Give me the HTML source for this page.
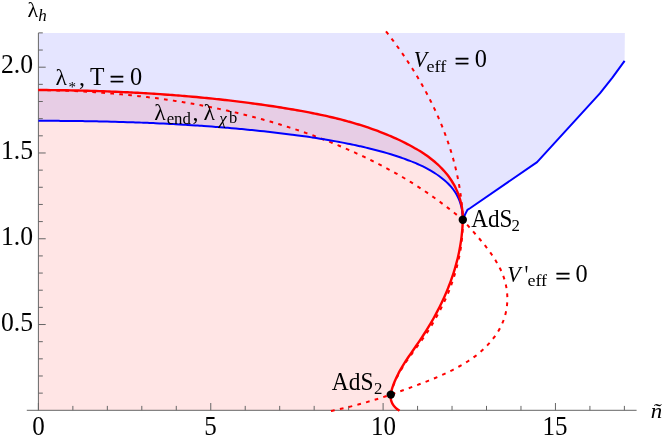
<!DOCTYPE html>
<html>
<head>
<meta charset="utf-8">
<title>Phase diagram</title>
<style>
html, body { margin: 0; padding: 0; background: #ffffff; }
body { width: 664px; height: 443px; overflow: hidden; }
svg { display: block; will-change: transform; }
text { font-family: "Liberation Serif", serif; fill: #000; }
.it { font-style: italic; }
</style>
</head>
<body>
<svg width="664" height="443" viewBox="0 0 664 443">
<rect x="0" y="0" width="664" height="443" fill="#ffffff"/>
<!-- filled regions -->
<path d="M38.40,120.80C39.07,120.80 41.09,120.80 42.44,120.80C43.79,120.81 45.13,120.81 46.48,120.81C47.83,120.82 49.17,120.82 50.52,120.82C51.87,120.83 53.21,120.84 54.56,120.84C55.91,120.85 57.25,120.86 58.60,120.87C59.95,120.87 61.29,120.88 62.64,120.89C63.98,120.90 65.33,120.91 66.68,120.93C68.02,120.94 69.37,120.95 70.71,120.97C72.06,120.98 73.41,120.99 74.75,121.01C76.10,121.02 77.44,121.04 78.79,121.06C80.13,121.08 81.48,121.09 82.83,121.11C84.17,121.13 85.52,121.15 86.86,121.18C88.21,121.20 89.55,121.22 90.90,121.24C92.24,121.27 93.59,121.29 94.93,121.32C96.28,121.34 97.62,121.37 98.97,121.39C100.31,121.42 101.66,121.45 103.00,121.48C104.35,121.51 105.69,121.54 107.04,121.57C108.38,121.60 109.72,121.64 111.07,121.67C112.41,121.70 113.76,121.74 115.10,121.78C116.45,121.81 117.79,121.85 119.13,121.89C120.48,121.93 121.82,121.96 123.17,122.01C124.51,122.05 125.85,122.09 127.20,122.13C128.54,122.17 129.89,122.22 131.23,122.26C132.57,122.31 133.92,122.36 135.26,122.40C136.60,122.45 137.95,122.50 139.29,122.55C140.63,122.60 141.98,122.65 143.32,122.70C144.66,122.76 146.01,122.81 147.35,122.87C148.69,122.92 150.04,122.98 151.38,123.04C152.72,123.09 154.07,123.15 155.41,123.21C156.75,123.27 158.09,123.34 159.44,123.40C160.78,123.46 162.12,123.53 163.46,123.59C164.81,123.66 166.15,123.72 167.49,123.79C168.83,123.86 170.18,123.93 171.52,124.00C172.86,124.07 174.20,124.15 175.54,124.22C176.89,124.29 178.23,124.37 179.57,124.45C180.91,124.52 182.25,124.60 183.60,124.68C184.94,124.76 186.28,124.84 187.62,124.92C188.96,125.01 190.30,125.09 191.65,125.18C192.99,125.26 194.33,125.35 195.67,125.44C197.01,125.53 198.35,125.62 199.69,125.71C201.03,125.80 202.38,125.89 203.72,125.99C205.06,126.08 206.40,126.18 207.74,126.28C209.08,126.37 210.42,126.47 211.76,126.57C213.10,126.67 214.44,126.78 215.78,126.88C217.12,126.98 218.47,127.09 219.81,127.20C221.15,127.30 222.49,127.41 223.83,127.52C225.17,127.63 226.51,127.75 227.85,127.86C229.19,127.97 230.53,128.09 231.87,128.21C233.21,128.32 234.55,128.44 235.89,128.56C237.23,128.68 238.57,128.81 239.91,128.93C241.25,129.05 242.58,129.18 243.92,129.31C245.26,129.43 246.60,129.56 247.94,129.69C249.28,129.82 250.62,129.96 251.96,130.09C253.30,130.23 254.64,130.36 255.98,130.50C257.32,130.64 258.66,130.78 259.99,130.92C261.33,131.06 262.67,131.20 264.01,131.35C265.35,131.49 266.69,131.64 268.03,131.79C269.36,131.94 270.70,132.09 272.04,132.24C273.38,132.39 274.72,132.55 276.06,132.70C277.39,132.86 278.73,133.02 280.07,133.18C281.41,133.34 282.75,133.50 284.09,133.66C285.42,133.83 286.76,133.99 288.10,134.16C289.44,134.33 290.77,134.50 292.11,134.67C293.45,134.84 294.79,135.02 296.12,135.20C297.46,135.37 298.79,135.55 300.13,135.73C301.47,135.92 302.80,136.10 304.14,136.29C305.47,136.47 306.81,136.66 308.14,136.86C309.48,137.05 310.81,137.24 312.14,137.44C313.47,137.64 314.81,137.84 316.14,138.05C317.47,138.25 318.80,138.46 320.13,138.67C321.46,138.88 322.79,139.10 324.12,139.32C325.45,139.53 326.78,139.76 328.10,139.98C329.43,140.21 330.76,140.44 332.08,140.67C333.41,140.90 334.73,141.14 336.05,141.38C337.38,141.62 338.70,141.86 340.02,142.11C341.34,142.36 342.66,142.61 343.98,142.87C345.29,143.13 346.61,143.39 347.93,143.65C349.24,143.92 350.56,144.19 351.87,144.46C353.18,144.74 354.50,145.02 355.81,145.30C357.12,145.58 358.43,145.87 359.73,146.17C361.04,146.46 362.35,146.76 363.65,147.06C364.95,147.37 366.26,147.67 367.56,147.99C368.86,148.30 370.16,148.62 371.46,148.94C372.75,149.27 374.05,149.60 375.35,149.94C376.64,150.27 377.93,150.62 379.23,150.97C380.52,151.32 381.81,151.67 383.10,152.03C384.39,152.40 385.68,152.77 386.97,153.15C388.25,153.52 389.54,153.91 390.83,154.30C392.11,154.70 393.39,155.10 394.68,155.51C395.96,155.92 397.24,156.33 398.53,156.76C399.81,157.19 401.09,157.62 402.37,158.07C403.65,158.51 404.92,158.97 406.20,159.44C407.47,159.90 408.74,160.38 410.01,160.87C411.27,161.36 412.53,161.87 413.79,162.38C415.04,162.90 416.29,163.43 417.53,163.98C418.77,164.53 420.00,165.09 421.22,165.67C422.45,166.25 423.66,166.85 424.86,167.46C426.07,168.08 427.26,168.71 428.44,169.36C429.62,170.02 430.79,170.69 431.94,171.38C433.10,172.07 434.24,172.79 435.36,173.52C436.49,174.26 437.60,175.02 438.69,175.80C439.79,176.58 440.87,177.39 441.92,178.22C442.98,179.05 444.02,179.91 445.03,180.79C446.04,181.67 447.03,182.58 447.99,183.52C448.94,184.46 449.86,185.42 450.74,186.42C451.63,187.41 452.47,188.44 453.27,189.49C454.07,190.55 454.83,191.63 455.53,192.75C456.23,193.87 456.89,195.02 457.49,196.20C458.09,197.38 458.65,198.59 459.15,199.82C459.65,201.05 460.09,202.31 460.49,203.59C460.88,204.87 461.23,206.17 461.52,207.49C461.81,208.81 462.05,210.15 462.24,211.49C462.43,212.84 462.57,214.21 462.66,215.57C462.76,216.94 462.78,219.01 462.80,219.70L465.40,213.90L467.40,209.90L470.40,208.00L537.10,162.10L599.90,93.40L612.40,77.60L624.60,60.90L624.9,33.0L38.4,33.0Z" fill="#0000ff" fill-opacity="0.1"/>
<path d="M38.40,90.00C39.08,90.00 41.10,90.02 42.45,90.03C43.81,90.03 45.16,90.05 46.51,90.06C47.86,90.07 49.21,90.08 50.56,90.10C51.92,90.11 53.27,90.13 54.62,90.14C55.97,90.16 57.32,90.18 58.68,90.19C60.03,90.21 61.38,90.23 62.73,90.25C64.08,90.28 65.44,90.30 66.79,90.32C68.14,90.35 69.49,90.37 70.85,90.40C72.20,90.42 73.55,90.45 74.90,90.48C76.26,90.51 77.61,90.54 78.96,90.57C80.31,90.60 81.67,90.63 83.02,90.67C84.37,90.70 85.72,90.74 87.07,90.77C88.43,90.81 89.78,90.85 91.13,90.89C92.48,90.93 93.84,90.97 95.19,91.01C96.54,91.05 97.89,91.09 99.25,91.14C100.60,91.18 101.95,91.23 103.30,91.28C104.66,91.33 106.01,91.37 107.36,91.42C108.71,91.48 110.07,91.53 111.42,91.58C112.77,91.63 114.12,91.69 115.47,91.75C116.83,91.80 118.18,91.86 119.53,91.92C120.88,91.98 122.23,92.04 123.59,92.10C124.94,92.16 126.29,92.23 127.64,92.29C128.99,92.36 130.35,92.43 131.70,92.49C133.05,92.56 134.40,92.63 135.75,92.70C137.10,92.78 138.46,92.85 139.81,92.92C141.16,93.00 142.51,93.08 143.86,93.15C145.21,93.23 146.56,93.31 147.91,93.39C149.26,93.47 150.61,93.56 151.97,93.64C153.32,93.73 154.67,93.81 156.02,93.90C157.37,93.99 158.72,94.08 160.07,94.17C161.42,94.26 162.77,94.35 164.12,94.45C165.47,94.54 166.82,94.64 168.17,94.74C169.52,94.84 170.87,94.94 172.22,95.04C173.56,95.14 174.91,95.25 176.26,95.35C177.61,95.46 178.96,95.56 180.31,95.67C181.66,95.78 183.01,95.89 184.36,96.00C185.70,96.12 187.05,96.23 188.40,96.35C189.75,96.46 191.10,96.58 192.44,96.70C193.79,96.82 195.14,96.94 196.49,97.07C197.83,97.19 199.18,97.32 200.53,97.45C201.87,97.57 203.22,97.70 204.57,97.83C205.91,97.97 207.26,98.10 208.60,98.23C209.95,98.37 211.30,98.51 212.64,98.65C213.99,98.79 215.33,98.93 216.68,99.07C218.02,99.21 219.37,99.36 220.71,99.51C222.06,99.65 223.40,99.80 224.75,99.95C226.09,100.11 227.43,100.26 228.78,100.41C230.12,100.57 231.46,100.73 232.81,100.89C234.15,101.05 235.49,101.21 236.84,101.37C238.18,101.53 239.52,101.70 240.86,101.87C242.20,102.04 243.55,102.21 244.89,102.38C246.23,102.55 247.57,102.72 248.91,102.90C250.25,103.08 251.59,103.26 252.93,103.44C254.27,103.62 255.61,103.80 256.95,103.99C258.29,104.17 259.63,104.36 260.97,104.55C262.31,104.74 263.65,104.93 264.99,105.12C266.32,105.32 267.66,105.51 269.00,105.71C270.34,105.91 271.67,106.11 273.01,106.31C274.35,106.52 275.69,106.72 277.02,106.93C278.36,107.14 279.69,107.35 281.03,107.56C282.37,107.77 283.70,107.99 285.04,108.20C286.37,108.42 287.70,108.64 289.04,108.86C290.37,109.08 291.71,109.31 293.04,109.53C294.37,109.76 295.71,109.99 297.04,110.23C298.37,110.46 299.70,110.70 301.03,110.94C302.36,111.18 303.69,111.42 305.02,111.67C306.35,111.92 307.68,112.17 309.00,112.42C310.33,112.68 311.66,112.94 312.98,113.20C314.31,113.47 315.63,113.73 316.96,114.01C318.28,114.28 319.60,114.56 320.92,114.84C322.24,115.12 323.56,115.41 324.88,115.70C326.20,115.99 327.52,116.28 328.83,116.59C330.15,116.89 331.46,117.19 332.78,117.51C334.09,117.82 335.40,118.14 336.71,118.46C338.02,118.79 339.33,119.12 340.64,119.45C341.95,119.79 343.25,120.13 344.56,120.48C345.86,120.82 347.17,121.18 348.47,121.54C349.77,121.90 351.07,122.27 352.36,122.64C353.66,123.02 354.96,123.40 356.25,123.79C357.54,124.17 358.84,124.57 360.13,124.97C361.41,125.38 362.70,125.79 363.99,126.20C365.27,126.62 366.56,127.05 367.84,127.48C369.12,127.91 370.40,128.35 371.68,128.80C372.95,129.25 374.23,129.71 375.50,130.17C376.77,130.64 378.04,131.11 379.31,131.60C380.58,132.08 381.84,132.57 383.11,133.07C384.37,133.57 385.63,134.08 386.89,134.60C388.15,135.12 389.40,135.64 390.65,136.18C391.91,136.72 393.16,137.26 394.40,137.82C395.65,138.38 396.89,138.94 398.14,139.52C399.38,140.09 400.62,140.68 401.85,141.27C403.09,141.87 404.32,142.48 405.54,143.09C406.77,143.71 407.99,144.34 409.20,144.98C410.42,145.62 411.62,146.27 412.82,146.94C414.02,147.61 415.21,148.28 416.39,148.98C417.56,149.67 418.73,150.37 419.89,151.09C421.05,151.81 422.19,152.55 423.33,153.30C424.46,154.05 425.58,154.81 426.68,155.59C427.79,156.37 428.88,157.16 429.95,157.98C431.02,158.79 432.08,159.62 433.12,160.46C434.16,161.31 435.18,162.17 436.18,163.05C437.18,163.93 438.16,164.83 439.12,165.75C440.08,166.67 441.02,167.60 441.94,168.56C442.86,169.52 443.75,170.49 444.62,171.49C445.49,172.48 446.34,173.50 447.16,174.53C447.98,175.57 448.77,176.63 449.54,177.71C450.30,178.79 451.05,179.89 451.76,181.01C452.47,182.13 453.15,183.28 453.80,184.44C454.45,185.60 455.07,186.78 455.66,187.98C456.25,189.18 456.81,190.40 457.33,191.64C457.85,192.87 458.34,194.13 458.80,195.39C459.25,196.66 459.67,197.95 460.05,199.25C460.43,200.55 460.78,201.86 461.08,203.19C461.39,204.52 461.66,205.86 461.88,207.21C462.11,208.56 462.30,209.93 462.44,211.31C462.59,212.69 462.69,214.08 462.75,215.47C462.81,216.87 462.79,219.00 462.80,219.70C462.78,220.40 462.72,222.49 462.65,223.88C462.58,225.27 462.50,226.65 462.40,228.04C462.30,229.42 462.19,230.80 462.06,232.18C461.92,233.56 461.78,234.93 461.61,236.31C461.45,237.68 461.27,239.05 461.08,240.41C460.89,241.78 460.68,243.14 460.45,244.50C460.23,245.86 459.99,247.22 459.74,248.57C459.49,249.92 459.22,251.27 458.94,252.62C458.66,253.96 458.36,255.31 458.05,256.65C457.74,257.99 457.41,259.32 457.08,260.65C456.74,261.99 456.39,263.32 456.02,264.64C455.66,265.97 455.28,267.29 454.89,268.61C454.50,269.92 454.10,271.24 453.68,272.55C453.26,273.86 452.83,275.17 452.39,276.47C451.95,277.77 451.50,279.07 451.03,280.37C450.56,281.66 450.09,282.95 449.60,284.24C449.11,285.53 448.60,286.81 448.09,288.09C447.58,289.37 447.05,290.64 446.52,291.91C445.98,293.18 445.44,294.45 444.88,295.71C444.32,296.98 443.75,298.23 443.17,299.49C442.60,300.74 442.01,301.99 441.41,303.24C440.81,304.48 440.20,305.72 439.58,306.96C438.96,308.20 438.33,309.43 437.69,310.65C437.05,311.88 436.41,313.11 435.75,314.32C435.09,315.54 434.42,316.76 433.75,317.96C433.07,319.17 432.39,320.38 431.70,321.58C431.00,322.78 430.30,323.97 429.59,325.16C428.88,326.35 428.17,327.54 427.44,328.72C426.71,329.90 425.98,331.07 425.24,332.24C424.50,333.41 423.75,334.58 422.99,335.74C422.24,336.90 421.47,338.05 420.70,339.20C419.93,340.35 419.15,341.50 418.37,342.64C417.59,343.78 416.80,344.91 416.01,346.05C415.23,347.19 414.43,348.32 413.65,349.45C412.86,350.58 412.07,351.72 411.29,352.85C410.50,353.99 409.72,355.12 408.95,356.26C408.18,357.40 407.41,358.54 406.66,359.69C405.90,360.84 405.16,361.99 404.42,363.15C403.69,364.32 402.97,365.48 402.27,366.66C401.57,367.83 400.88,369.02 400.21,370.21C399.54,371.41 398.89,372.62 398.26,373.83C397.63,375.05 397.02,376.28 396.44,377.53C395.86,378.77 395.30,380.03 394.77,381.31C394.24,382.58 393.73,383.87 393.26,385.18C392.79,386.49 392.32,387.82 391.94,389.16C391.56,390.49 391.20,391.85 390.99,393.20C390.78,394.54 390.64,395.89 390.69,397.22C390.75,398.54 390.93,399.87 391.34,401.15C391.75,402.42 392.37,403.71 393.14,404.88C393.91,406.05 394.90,407.20 395.96,408.19C397.02,409.17 398.91,410.36 399.50,410.80L38.4,410.3L38.4,90.0Z" fill="#ff0000" fill-opacity="0.1"/>
<!-- axes -->
<g stroke="#666666" stroke-width="1" fill="none" shape-rendering="auto">
<line x1="26.8" y1="410.3" x2="636.6" y2="410.3"/>
<line x1="38.4" y1="410.3" x2="38.4" y2="33.0"/>
<line x1="38.40" y1="410.3" x2="38.40" y2="403.00"/>
<line x1="72.87" y1="410.3" x2="72.87" y2="405.90"/>
<line x1="107.34" y1="410.3" x2="107.34" y2="405.90"/>
<line x1="141.81" y1="410.3" x2="141.81" y2="405.90"/>
<line x1="176.28" y1="410.3" x2="176.28" y2="405.90"/>
<line x1="210.75" y1="410.3" x2="210.75" y2="403.00"/>
<line x1="245.22" y1="410.3" x2="245.22" y2="405.90"/>
<line x1="279.69" y1="410.3" x2="279.69" y2="405.90"/>
<line x1="314.16" y1="410.3" x2="314.16" y2="405.90"/>
<line x1="348.63" y1="410.3" x2="348.63" y2="405.90"/>
<line x1="383.10" y1="410.3" x2="383.10" y2="403.00"/>
<line x1="417.57" y1="410.3" x2="417.57" y2="405.90"/>
<line x1="452.04" y1="410.3" x2="452.04" y2="405.90"/>
<line x1="486.51" y1="410.3" x2="486.51" y2="405.90"/>
<line x1="520.98" y1="410.3" x2="520.98" y2="405.90"/>
<line x1="555.45" y1="410.3" x2="555.45" y2="403.00"/>
<line x1="589.92" y1="410.3" x2="589.92" y2="405.90"/>
<line x1="624.39" y1="410.3" x2="624.39" y2="405.90"/>
<line x1="38.4" y1="393.14" x2="42.80" y2="393.14"/>
<line x1="38.4" y1="375.99" x2="42.80" y2="375.99"/>
<line x1="38.4" y1="358.83" x2="42.80" y2="358.83"/>
<line x1="38.4" y1="341.68" x2="42.80" y2="341.68"/>
<line x1="38.4" y1="324.52" x2="45.70" y2="324.52"/>
<line x1="38.4" y1="307.37" x2="42.80" y2="307.37"/>
<line x1="38.4" y1="290.21" x2="42.80" y2="290.21"/>
<line x1="38.4" y1="273.06" x2="42.80" y2="273.06"/>
<line x1="38.4" y1="255.91" x2="42.80" y2="255.91"/>
<line x1="38.4" y1="238.75" x2="45.70" y2="238.75"/>
<line x1="38.4" y1="221.59" x2="42.80" y2="221.59"/>
<line x1="38.4" y1="204.44" x2="42.80" y2="204.44"/>
<line x1="38.4" y1="187.28" x2="42.80" y2="187.28"/>
<line x1="38.4" y1="170.13" x2="42.80" y2="170.13"/>
<line x1="38.4" y1="152.97" x2="45.70" y2="152.97"/>
<line x1="38.4" y1="135.82" x2="42.80" y2="135.82"/>
<line x1="38.4" y1="118.66" x2="42.80" y2="118.66"/>
<line x1="38.4" y1="101.51" x2="42.80" y2="101.51"/>
<line x1="38.4" y1="84.35" x2="42.80" y2="84.35"/>
<line x1="38.4" y1="67.20" x2="45.70" y2="67.20"/>
<line x1="38.4" y1="50.04" x2="42.80" y2="50.04"/>
<line x1="38.4" y1="32.89" x2="42.80" y2="32.89"/>
</g>
<!-- curves -->
<g fill="none" stroke-linejoin="round">
<path d="M38.40,90.00C39.07,90.01 41.08,90.04 42.42,90.06C43.75,90.09 45.09,90.11 46.43,90.14C47.77,90.17 49.11,90.20 50.45,90.24C51.79,90.27 53.13,90.30 54.47,90.34C55.82,90.38 57.16,90.42 58.50,90.46C59.84,90.51 61.18,90.55 62.52,90.60C63.86,90.65 65.21,90.70 66.55,90.75C67.89,90.80 69.23,90.86 70.58,90.92C71.92,90.97 73.26,91.03 74.61,91.10C75.95,91.16 77.29,91.22 78.64,91.29C79.98,91.36 81.32,91.43 82.67,91.50C84.01,91.57 85.35,91.65 86.70,91.73C88.04,91.81 89.39,91.89 90.73,91.97C92.07,92.05 93.42,92.14 94.76,92.23C96.11,92.31 97.45,92.41 98.79,92.50C100.14,92.59 101.48,92.69 102.83,92.79C104.17,92.89 105.51,92.99 106.86,93.09C108.20,93.20 109.55,93.31 110.89,93.42C112.23,93.53 113.58,93.64 114.92,93.75C116.26,93.87 117.61,93.99 118.95,94.11C120.29,94.23 121.64,94.35 122.98,94.48C124.32,94.61 125.67,94.74 127.01,94.87C128.35,95.00 129.69,95.14 131.04,95.28C132.38,95.42 133.72,95.56 135.06,95.70C136.40,95.84 137.75,95.99 139.09,96.14C140.43,96.29 141.77,96.44 143.11,96.60C144.45,96.76 145.79,96.91 147.13,97.08C148.47,97.24 149.81,97.40 151.15,97.57C152.49,97.74 153.83,97.91 155.17,98.08C156.51,98.26 157.84,98.43 159.18,98.61C160.52,98.79 161.86,98.98 163.19,99.16C164.53,99.35 165.87,99.54 167.20,99.73C168.54,99.92 169.87,100.12 171.21,100.32C172.54,100.51 173.88,100.72 175.21,100.92C176.55,101.13 177.88,101.33 179.21,101.55C180.55,101.76 181.88,101.97 183.21,102.19C184.54,102.41 185.87,102.63 187.20,102.85C188.53,103.08 189.86,103.30 191.19,103.53C192.52,103.76 193.85,104.00 195.18,104.24C196.51,104.47 197.83,104.71 199.16,104.96C200.49,105.20 201.81,105.45 203.14,105.70C204.46,105.95 205.79,106.20 207.11,106.46C208.44,106.72 209.76,106.98 211.08,107.24C212.40,107.51 213.73,107.77 215.05,108.05C216.37,108.32 217.69,108.59 219.01,108.87C220.32,109.15 221.64,109.43 222.96,109.71C224.28,110.00 225.59,110.29 226.91,110.58C228.23,110.87 229.54,111.16 230.85,111.46C232.17,111.76 233.48,112.06 234.79,112.37C236.10,112.68 237.42,112.99 238.73,113.30C240.04,113.61 241.34,113.93 242.65,114.25C243.96,114.57 245.27,114.89 246.57,115.22C247.88,115.55 249.18,115.88 250.49,116.21C251.79,116.55 253.10,116.89 254.40,117.23C255.70,117.57 257.00,117.92 258.30,118.27C259.60,118.62 260.90,118.97 262.20,119.33C263.49,119.68 264.79,120.05 266.08,120.41C267.38,120.77 268.67,121.14 269.97,121.51C271.26,121.89 272.55,122.26 273.84,122.64C275.13,123.02 276.42,123.41 277.71,123.79C279.00,124.18 280.28,124.57 281.57,124.97C282.85,125.36 284.14,125.76 285.42,126.16C286.70,126.57 287.99,126.97 289.27,127.39C290.55,127.80 291.82,128.21 293.10,128.63C294.38,129.05 295.66,129.47 296.93,129.90C298.21,130.32 299.48,130.75 300.75,131.19C302.02,131.62 303.29,132.06 304.56,132.50C305.83,132.95 307.10,133.39 308.37,133.84C309.63,134.30 310.90,134.75 312.16,135.21C313.42,135.67 314.69,136.13 315.95,136.60C317.21,137.06 318.46,137.54 319.72,138.01C320.98,138.49 322.23,138.97 323.49,139.45C324.74,139.93 326.00,140.42 327.25,140.91C328.50,141.40 329.75,141.90 330.99,142.40C332.24,142.90 333.49,143.41 334.73,143.91C335.98,144.42 337.22,144.94 338.46,145.45C339.70,145.97 340.94,146.49 342.18,147.02C343.42,147.54 344.65,148.07 345.89,148.61C347.12,149.14 348.35,149.68 349.58,150.22C350.82,150.77 352.04,151.32 353.27,151.87C354.50,152.42 355.72,152.98 356.95,153.54C358.17,154.10 359.39,154.66 360.61,155.23C361.83,155.80 363.05,156.37 364.27,156.95C365.48,157.53 366.70,158.11 367.91,158.70C369.12,159.29 370.33,159.88 371.54,160.48C372.75,161.07 373.96,161.67 375.16,162.28C376.36,162.88 377.57,163.49 378.76,164.11C379.96,164.72 381.16,165.34 382.36,165.97C383.55,166.59 384.74,167.22 385.93,167.86C387.12,168.49 388.31,169.13 389.49,169.77C390.68,170.42 391.86,171.07 393.04,171.72C394.21,172.37 395.39,173.03 396.56,173.70C397.73,174.36 398.90,175.03 400.07,175.71C401.24,176.38 402.40,177.06 403.56,177.75C404.72,178.43 405.88,179.12 407.03,179.82C408.18,180.51 409.33,181.21 410.48,181.92C411.62,182.63 412.77,183.34 413.91,184.06C415.04,184.77 416.18,185.50 417.31,186.22C418.44,186.95 419.57,187.69 420.69,188.43C421.82,189.17 422.94,189.91 424.05,190.66C425.17,191.41 426.28,192.17 427.39,192.93C428.50,193.69 429.60,194.46 430.71,195.23C431.81,196.00 432.91,196.78 434.00,197.56C435.09,198.34 436.19,199.13 437.27,199.92C438.36,200.71 439.44,201.51 440.53,202.31C441.61,203.11 442.69,203.91 443.76,204.72C444.83,205.53 445.91,206.34 446.98,207.16C448.04,207.98 449.11,208.80 450.17,209.62C451.24,210.45 452.30,211.28 453.35,212.11C454.41,212.94 455.47,213.78 456.52,214.62C457.57,215.46 458.62,216.30 459.67,217.15C460.71,218.00 461.85,218.79 462.80,219.70C463.75,220.61 464.48,221.65 465.34,222.63C466.20,223.62 467.07,224.61 467.95,225.60C468.83,226.60 469.72,227.60 470.61,228.61C471.50,229.62 472.40,230.63 473.29,231.65C474.19,232.67 475.10,233.70 476.00,234.74C476.90,235.77 477.80,236.81 478.69,237.86C479.59,238.91 480.49,239.97 481.37,241.03C482.26,242.10 483.14,243.17 484.01,244.25C484.88,245.34 485.75,246.43 486.59,247.52C487.44,248.62 488.28,249.73 489.10,250.84C489.93,251.96 490.74,253.08 491.52,254.22C492.31,255.35 493.09,256.50 493.84,257.65C494.58,258.80 495.32,259.97 496.02,261.14C496.73,262.31 497.41,263.49 498.06,264.69C498.72,265.88 499.35,267.09 499.95,268.30C500.55,269.51 501.12,270.74 501.65,271.98C502.19,273.21 502.70,274.46 503.16,275.72C503.63,276.98 504.07,278.25 504.46,279.53C504.86,280.82 505.21,282.11 505.53,283.42C505.84,284.72 506.12,286.04 506.35,287.37C506.59,288.69 506.78,290.03 506.93,291.37C507.08,292.71 507.19,294.06 507.26,295.41C507.33,296.76 507.35,298.11 507.34,299.46C507.32,300.82 507.26,302.17 507.16,303.52C507.06,304.87 506.91,306.21 506.72,307.55C506.54,308.89 506.30,310.23 506.03,311.55C505.76,312.88 505.44,314.19 505.08,315.50C504.71,316.80 504.31,318.09 503.86,319.37C503.41,320.64 502.91,321.91 502.37,323.15C501.84,324.40 501.26,325.63 500.65,326.84C500.03,328.05 499.38,329.24 498.70,330.41C498.01,331.58 497.29,332.74 496.55,333.87C495.80,335.00 495.03,336.11 494.23,337.20C493.43,338.28 492.60,339.35 491.75,340.39C490.90,341.43 490.03,342.45 489.14,343.45C488.25,344.44 487.33,345.42 486.40,346.37C485.46,347.33 484.50,348.26 483.53,349.17C482.56,350.08 481.56,350.98 480.55,351.85C479.54,352.72 478.50,353.58 477.46,354.41C476.41,355.25 475.35,356.07 474.27,356.87C473.19,357.67 472.09,358.45 470.98,359.22C469.87,359.98 468.75,360.73 467.61,361.47C466.47,362.20 465.32,362.92 464.16,363.63C463.00,364.33 461.82,365.02 460.64,365.70C459.45,366.38 458.25,367.04 457.05,367.69C455.84,368.34 454.63,368.98 453.40,369.60C452.18,370.23 450.95,370.84 449.71,371.45C448.47,372.05 447.22,372.64 445.97,373.22C444.72,373.81 443.46,374.38 442.20,374.94C440.94,375.51 439.67,376.06 438.40,376.60C437.13,377.15 435.85,377.69 434.58,378.22C433.30,378.75 432.02,379.27 430.74,379.79C429.47,380.31 428.18,380.82 426.90,381.32C425.62,381.83 424.34,382.33 423.07,382.82C421.79,383.32 420.51,383.81 419.24,384.30C417.96,384.78 416.69,385.27 415.42,385.75C414.15,386.23 412.88,386.70 411.62,387.17C410.35,387.65 409.08,388.11 407.82,388.58C406.56,389.04 405.30,389.50 404.03,389.96C402.77,390.42 401.51,390.87 400.25,391.32C398.99,391.76 397.73,392.21 396.47,392.65C395.21,393.09 393.95,393.53 392.69,393.96C391.43,394.39 390.16,394.82 388.90,395.24C387.64,395.66 386.38,396.08 385.11,396.50C383.85,396.91 382.58,397.32 381.31,397.73C380.04,398.14 378.77,398.54 377.50,398.93C376.23,399.33 374.96,399.72 373.68,400.11C372.40,400.50 371.12,400.89 369.84,401.26C368.56,401.64 367.27,402.02 365.98,402.39C364.69,402.76 363.40,403.12 362.10,403.48C360.80,403.85 359.50,404.20 358.20,404.55C356.89,404.90 355.58,405.25 354.27,405.59C352.95,405.93 351.64,406.27 350.31,406.60C348.99,406.93 347.66,407.26 346.32,407.58C344.99,407.90 343.65,408.22 342.30,408.53C340.95,408.84 339.60,409.15 338.24,409.45C336.88,409.75 335.51,410.05 334.14,410.34C332.77,410.63 330.69,411.06 330.00,411.20" stroke="#ff0000" stroke-width="2" stroke-dasharray="3.7 5.3"/>
<path d="M386.00,31.40C386.42,31.94 387.69,33.56 388.53,34.64C389.37,35.73 390.20,36.82 391.03,37.91C391.86,39.01 392.69,40.11 393.51,41.21C394.33,42.31 395.15,43.42 395.96,44.53C396.77,45.64 397.58,46.76 398.38,47.88C399.18,49.00 399.98,50.12 400.77,51.25C401.56,52.38 402.35,53.51 403.13,54.65C403.91,55.79 404.69,56.93 405.46,58.07C406.23,59.22 406.99,60.37 407.75,61.52C408.51,62.67 409.27,63.83 410.02,64.99C410.76,66.15 411.51,67.32 412.24,68.48C412.98,69.65 413.71,70.82 414.44,72.00C415.16,73.18 415.88,74.36 416.59,75.54C417.31,76.72 418.01,77.91 418.71,79.10C419.41,80.29 420.11,81.49 420.80,82.69C421.48,83.89 422.17,85.09 422.84,86.30C423.51,87.50 424.18,88.71 424.84,89.92C425.51,91.14 426.16,92.35 426.81,93.57C427.46,94.79 428.10,96.02 428.73,97.24C429.36,98.47 429.99,99.70 430.61,100.94C431.23,102.17 431.84,103.41 432.44,104.65C433.05,105.89 433.65,107.13 434.24,108.38C434.83,109.63 435.41,110.88 435.98,112.13C436.56,113.38 437.13,114.64 437.68,115.90C438.24,117.16 438.80,118.43 439.34,119.69C439.88,120.96 440.42,122.23 440.95,123.50C441.47,124.77 441.99,126.05 442.50,127.33C443.01,128.61 443.52,129.89 444.01,131.17C444.50,132.46 444.99,133.75 445.47,135.04C445.94,136.33 446.41,137.62 446.87,138.92C447.33,140.21 447.78,141.51 448.23,142.81C448.67,144.12 449.10,145.42 449.53,146.73C449.95,148.04 450.37,149.35 450.77,150.66C451.18,151.97 451.58,153.29 451.97,154.61C452.35,155.93 452.73,157.25 453.10,158.57C453.47,159.89 453.83,161.22 454.18,162.55C454.53,163.88 454.87,165.21 455.20,166.54C455.53,167.88 455.85,169.21 456.16,170.55C456.47,171.89 456.77,173.23 457.06,174.57C457.35,175.92 457.64,177.26 457.91,178.61C458.18,179.96 458.44,181.31 458.69,182.66C458.94,184.02 459.18,185.37 459.40,186.73C459.63,188.09 459.85,189.45 460.06,190.81C460.27,192.17 460.46,193.53 460.65,194.90C460.84,196.26 461.01,197.63 461.18,199.00C461.34,200.37 461.49,201.74 461.64,203.12C461.78,204.49 461.91,205.87 462.03,207.25C462.15,208.62 462.26,210.00 462.36,211.39C462.45,212.77 462.54,214.15 462.61,215.54C462.69,216.92 462.77,219.01 462.80,219.70C462.80,220.40 462.81,222.49 462.79,223.88C462.77,225.28 462.73,226.67 462.68,228.06C462.62,229.45 462.55,230.84 462.47,232.22C462.38,233.61 462.28,234.99 462.16,236.37C462.04,237.75 461.91,239.13 461.76,240.51C461.61,241.89 461.44,243.26 461.26,244.63C461.08,246.01 460.89,247.38 460.68,248.75C460.46,250.11 460.23,251.48 459.98,252.84C459.73,254.20 459.46,255.56 459.19,256.91C458.91,258.26 458.61,259.62 458.31,260.97C458.00,262.31 457.68,263.66 457.34,265.00C457.01,266.35 456.66,267.69 456.30,269.02C455.93,270.36 455.56,271.69 455.17,273.02C454.78,274.35 454.38,275.68 453.97,277.00C453.55,278.32 453.12,279.64 452.68,280.96C452.25,282.28 451.79,283.59 451.33,284.90C450.87,286.21 450.40,287.52 449.90,288.81C449.41,290.11 448.89,291.40 448.35,292.69C447.82,293.97 447.25,295.24 446.68,296.51C446.11,297.78 445.54,299.04 444.95,300.31C444.36,301.57 443.76,302.82 443.15,304.07C442.54,305.33 441.92,306.57 441.29,307.82C440.66,309.06 440.02,310.30 439.38,311.53C438.73,312.76 438.07,313.99 437.40,315.22C436.73,316.44 436.06,317.66 435.37,318.87C434.69,320.09 433.99,321.29 433.29,322.50C432.59,323.70 431.88,324.90 431.16,326.10C430.44,327.29 429.72,328.48 428.98,329.66C428.23,330.84 427.47,332.01 426.70,333.16C425.92,334.32 425.13,335.47 424.34,336.62C423.55,337.76 422.75,338.90 421.94,340.03C421.14,341.17 420.32,342.29 419.51,343.42C418.69,344.54 417.87,345.66 417.05,346.77C416.23,347.89 415.41,349.00 414.59,350.11C413.77,351.22 412.95,352.33 412.14,353.44C411.33,354.55 410.52,355.66 409.72,356.78C408.91,357.90 408.11,359.01 407.33,360.14C406.55,361.26 405.79,362.40 405.04,363.54C404.29,364.68 403.55,365.83 402.82,366.99C402.10,368.15 401.39,369.31 400.70,370.49C400.01,371.67 399.34,372.85 398.69,374.05C398.03,375.26 397.40,376.47 396.80,377.70C396.19,378.92 395.61,380.17 395.05,381.43C394.49,382.68 393.96,383.96 393.46,385.25C392.97,386.55 392.47,387.87 392.06,389.19C391.66,390.52 391.20,392.54 391.02,393.20" stroke="#ff0000" stroke-width="2" stroke-dasharray="3.7 5.3"/>
<path d="M38.40,120.80C39.07,120.80 41.09,120.80 42.44,120.80C43.79,120.81 45.13,120.81 46.48,120.81C47.83,120.82 49.17,120.82 50.52,120.82C51.87,120.83 53.21,120.84 54.56,120.84C55.91,120.85 57.25,120.86 58.60,120.87C59.95,120.87 61.29,120.88 62.64,120.89C63.98,120.90 65.33,120.91 66.68,120.93C68.02,120.94 69.37,120.95 70.71,120.97C72.06,120.98 73.41,120.99 74.75,121.01C76.10,121.02 77.44,121.04 78.79,121.06C80.13,121.08 81.48,121.09 82.83,121.11C84.17,121.13 85.52,121.15 86.86,121.18C88.21,121.20 89.55,121.22 90.90,121.24C92.24,121.27 93.59,121.29 94.93,121.32C96.28,121.34 97.62,121.37 98.97,121.39C100.31,121.42 101.66,121.45 103.00,121.48C104.35,121.51 105.69,121.54 107.04,121.57C108.38,121.60 109.72,121.64 111.07,121.67C112.41,121.70 113.76,121.74 115.10,121.78C116.45,121.81 117.79,121.85 119.13,121.89C120.48,121.93 121.82,121.96 123.17,122.01C124.51,122.05 125.85,122.09 127.20,122.13C128.54,122.17 129.89,122.22 131.23,122.26C132.57,122.31 133.92,122.36 135.26,122.40C136.60,122.45 137.95,122.50 139.29,122.55C140.63,122.60 141.98,122.65 143.32,122.70C144.66,122.76 146.01,122.81 147.35,122.87C148.69,122.92 150.04,122.98 151.38,123.04C152.72,123.09 154.07,123.15 155.41,123.21C156.75,123.27 158.09,123.34 159.44,123.40C160.78,123.46 162.12,123.53 163.46,123.59C164.81,123.66 166.15,123.72 167.49,123.79C168.83,123.86 170.18,123.93 171.52,124.00C172.86,124.07 174.20,124.15 175.54,124.22C176.89,124.29 178.23,124.37 179.57,124.45C180.91,124.52 182.25,124.60 183.60,124.68C184.94,124.76 186.28,124.84 187.62,124.92C188.96,125.01 190.30,125.09 191.65,125.18C192.99,125.26 194.33,125.35 195.67,125.44C197.01,125.53 198.35,125.62 199.69,125.71C201.03,125.80 202.38,125.89 203.72,125.99C205.06,126.08 206.40,126.18 207.74,126.28C209.08,126.37 210.42,126.47 211.76,126.57C213.10,126.67 214.44,126.78 215.78,126.88C217.12,126.98 218.47,127.09 219.81,127.20C221.15,127.30 222.49,127.41 223.83,127.52C225.17,127.63 226.51,127.75 227.85,127.86C229.19,127.97 230.53,128.09 231.87,128.21C233.21,128.32 234.55,128.44 235.89,128.56C237.23,128.68 238.57,128.81 239.91,128.93C241.25,129.05 242.58,129.18 243.92,129.31C245.26,129.43 246.60,129.56 247.94,129.69C249.28,129.82 250.62,129.96 251.96,130.09C253.30,130.23 254.64,130.36 255.98,130.50C257.32,130.64 258.66,130.78 259.99,130.92C261.33,131.06 262.67,131.20 264.01,131.35C265.35,131.49 266.69,131.64 268.03,131.79C269.36,131.94 270.70,132.09 272.04,132.24C273.38,132.39 274.72,132.55 276.06,132.70C277.39,132.86 278.73,133.02 280.07,133.18C281.41,133.34 282.75,133.50 284.09,133.66C285.42,133.83 286.76,133.99 288.10,134.16C289.44,134.33 290.77,134.50 292.11,134.67C293.45,134.84 294.79,135.02 296.12,135.20C297.46,135.37 298.79,135.55 300.13,135.73C301.47,135.92 302.80,136.10 304.14,136.29C305.47,136.47 306.81,136.66 308.14,136.86C309.48,137.05 310.81,137.24 312.14,137.44C313.47,137.64 314.81,137.84 316.14,138.05C317.47,138.25 318.80,138.46 320.13,138.67C321.46,138.88 322.79,139.10 324.12,139.32C325.45,139.53 326.78,139.76 328.10,139.98C329.43,140.21 330.76,140.44 332.08,140.67C333.41,140.90 334.73,141.14 336.05,141.38C337.38,141.62 338.70,141.86 340.02,142.11C341.34,142.36 342.66,142.61 343.98,142.87C345.29,143.13 346.61,143.39 347.93,143.65C349.24,143.92 350.56,144.19 351.87,144.46C353.18,144.74 354.50,145.02 355.81,145.30C357.12,145.58 358.43,145.87 359.73,146.17C361.04,146.46 362.35,146.76 363.65,147.06C364.95,147.37 366.26,147.67 367.56,147.99C368.86,148.30 370.16,148.62 371.46,148.94C372.75,149.27 374.05,149.60 375.35,149.94C376.64,150.27 377.93,150.62 379.23,150.97C380.52,151.32 381.81,151.67 383.10,152.03C384.39,152.40 385.68,152.77 386.97,153.15C388.25,153.52 389.54,153.91 390.83,154.30C392.11,154.70 393.39,155.10 394.68,155.51C395.96,155.92 397.24,156.33 398.53,156.76C399.81,157.19 401.09,157.62 402.37,158.07C403.65,158.51 404.92,158.97 406.20,159.44C407.47,159.90 408.74,160.38 410.01,160.87C411.27,161.36 412.53,161.87 413.79,162.38C415.04,162.90 416.29,163.43 417.53,163.98C418.77,164.53 420.00,165.09 421.22,165.67C422.45,166.25 423.66,166.85 424.86,167.46C426.07,168.08 427.26,168.71 428.44,169.36C429.62,170.02 430.79,170.69 431.94,171.38C433.10,172.07 434.24,172.79 435.36,173.52C436.49,174.26 437.60,175.02 438.69,175.80C439.79,176.58 440.87,177.39 441.92,178.22C442.98,179.05 444.02,179.91 445.03,180.79C446.04,181.67 447.03,182.58 447.99,183.52C448.94,184.46 449.86,185.42 450.74,186.42C451.63,187.41 452.47,188.44 453.27,189.49C454.07,190.55 454.83,191.63 455.53,192.75C456.23,193.87 456.89,195.02 457.49,196.20C458.09,197.38 458.65,198.59 459.15,199.82C459.65,201.05 460.09,202.31 460.49,203.59C460.88,204.87 461.23,206.17 461.52,207.49C461.81,208.81 462.05,210.15 462.24,211.49C462.43,212.84 462.57,214.21 462.66,215.57C462.76,216.94 462.78,219.01 462.80,219.70" stroke="#0000ff" stroke-width="2"/>
<path d="M462.80,219.70L465.40,213.90L467.40,209.90L470.40,208.00L537.10,162.10L599.90,93.40L612.40,77.60L624.60,60.90" stroke="#0000ff" stroke-width="2"/>
<path d="M38.40,90.00C39.08,90.00 41.10,90.02 42.45,90.03C43.81,90.03 45.16,90.05 46.51,90.06C47.86,90.07 49.21,90.08 50.56,90.10C51.92,90.11 53.27,90.13 54.62,90.14C55.97,90.16 57.32,90.18 58.68,90.19C60.03,90.21 61.38,90.23 62.73,90.25C64.08,90.28 65.44,90.30 66.79,90.32C68.14,90.35 69.49,90.37 70.85,90.40C72.20,90.42 73.55,90.45 74.90,90.48C76.26,90.51 77.61,90.54 78.96,90.57C80.31,90.60 81.67,90.63 83.02,90.67C84.37,90.70 85.72,90.74 87.07,90.77C88.43,90.81 89.78,90.85 91.13,90.89C92.48,90.93 93.84,90.97 95.19,91.01C96.54,91.05 97.89,91.09 99.25,91.14C100.60,91.18 101.95,91.23 103.30,91.28C104.66,91.33 106.01,91.37 107.36,91.42C108.71,91.48 110.07,91.53 111.42,91.58C112.77,91.63 114.12,91.69 115.47,91.75C116.83,91.80 118.18,91.86 119.53,91.92C120.88,91.98 122.23,92.04 123.59,92.10C124.94,92.16 126.29,92.23 127.64,92.29C128.99,92.36 130.35,92.43 131.70,92.49C133.05,92.56 134.40,92.63 135.75,92.70C137.10,92.78 138.46,92.85 139.81,92.92C141.16,93.00 142.51,93.08 143.86,93.15C145.21,93.23 146.56,93.31 147.91,93.39C149.26,93.47 150.61,93.56 151.97,93.64C153.32,93.73 154.67,93.81 156.02,93.90C157.37,93.99 158.72,94.08 160.07,94.17C161.42,94.26 162.77,94.35 164.12,94.45C165.47,94.54 166.82,94.64 168.17,94.74C169.52,94.84 170.87,94.94 172.22,95.04C173.56,95.14 174.91,95.25 176.26,95.35C177.61,95.46 178.96,95.56 180.31,95.67C181.66,95.78 183.01,95.89 184.36,96.00C185.70,96.12 187.05,96.23 188.40,96.35C189.75,96.46 191.10,96.58 192.44,96.70C193.79,96.82 195.14,96.94 196.49,97.07C197.83,97.19 199.18,97.32 200.53,97.45C201.87,97.57 203.22,97.70 204.57,97.83C205.91,97.97 207.26,98.10 208.60,98.23C209.95,98.37 211.30,98.51 212.64,98.65C213.99,98.79 215.33,98.93 216.68,99.07C218.02,99.21 219.37,99.36 220.71,99.51C222.06,99.65 223.40,99.80 224.75,99.95C226.09,100.11 227.43,100.26 228.78,100.41C230.12,100.57 231.46,100.73 232.81,100.89C234.15,101.05 235.49,101.21 236.84,101.37C238.18,101.53 239.52,101.70 240.86,101.87C242.20,102.04 243.55,102.21 244.89,102.38C246.23,102.55 247.57,102.72 248.91,102.90C250.25,103.08 251.59,103.26 252.93,103.44C254.27,103.62 255.61,103.80 256.95,103.99C258.29,104.17 259.63,104.36 260.97,104.55C262.31,104.74 263.65,104.93 264.99,105.12C266.32,105.32 267.66,105.51 269.00,105.71C270.34,105.91 271.67,106.11 273.01,106.31C274.35,106.52 275.69,106.72 277.02,106.93C278.36,107.14 279.69,107.35 281.03,107.56C282.37,107.77 283.70,107.99 285.04,108.20C286.37,108.42 287.70,108.64 289.04,108.86C290.37,109.08 291.71,109.31 293.04,109.53C294.37,109.76 295.71,109.99 297.04,110.23C298.37,110.46 299.70,110.70 301.03,110.94C302.36,111.18 303.69,111.42 305.02,111.67C306.35,111.92 307.68,112.17 309.00,112.42C310.33,112.68 311.66,112.94 312.98,113.20C314.31,113.47 315.63,113.73 316.96,114.01C318.28,114.28 319.60,114.56 320.92,114.84C322.24,115.12 323.56,115.41 324.88,115.70C326.20,115.99 327.52,116.28 328.83,116.59C330.15,116.89 331.46,117.19 332.78,117.51C334.09,117.82 335.40,118.14 336.71,118.46C338.02,118.79 339.33,119.12 340.64,119.45C341.95,119.79 343.25,120.13 344.56,120.48C345.86,120.82 347.17,121.18 348.47,121.54C349.77,121.90 351.07,122.27 352.36,122.64C353.66,123.02 354.96,123.40 356.25,123.79C357.54,124.17 358.84,124.57 360.13,124.97C361.41,125.38 362.70,125.79 363.99,126.20C365.27,126.62 366.56,127.05 367.84,127.48C369.12,127.91 370.40,128.35 371.68,128.80C372.95,129.25 374.23,129.71 375.50,130.17C376.77,130.64 378.04,131.11 379.31,131.60C380.58,132.08 381.84,132.57 383.11,133.07C384.37,133.57 385.63,134.08 386.89,134.60C388.15,135.12 389.40,135.64 390.65,136.18C391.91,136.72 393.16,137.26 394.40,137.82C395.65,138.38 396.89,138.94 398.14,139.52C399.38,140.09 400.62,140.68 401.85,141.27C403.09,141.87 404.32,142.48 405.54,143.09C406.77,143.71 407.99,144.34 409.20,144.98C410.42,145.62 411.62,146.27 412.82,146.94C414.02,147.61 415.21,148.28 416.39,148.98C417.56,149.67 418.73,150.37 419.89,151.09C421.05,151.81 422.19,152.55 423.33,153.30C424.46,154.05 425.58,154.81 426.68,155.59C427.79,156.37 428.88,157.16 429.95,157.98C431.02,158.79 432.08,159.62 433.12,160.46C434.16,161.31 435.18,162.17 436.18,163.05C437.18,163.93 438.16,164.83 439.12,165.75C440.08,166.67 441.02,167.60 441.94,168.56C442.86,169.52 443.75,170.49 444.62,171.49C445.49,172.48 446.34,173.50 447.16,174.53C447.98,175.57 448.77,176.63 449.54,177.71C450.30,178.79 451.05,179.89 451.76,181.01C452.47,182.13 453.15,183.28 453.80,184.44C454.45,185.60 455.07,186.78 455.66,187.98C456.25,189.18 456.81,190.40 457.33,191.64C457.85,192.87 458.34,194.13 458.80,195.39C459.25,196.66 459.67,197.95 460.05,199.25C460.43,200.55 460.78,201.86 461.08,203.19C461.39,204.52 461.66,205.86 461.88,207.21C462.11,208.56 462.30,209.93 462.44,211.31C462.59,212.69 462.69,214.08 462.75,215.47C462.81,216.87 462.79,219.00 462.80,219.70C462.78,220.40 462.72,222.49 462.65,223.88C462.58,225.27 462.50,226.65 462.40,228.04C462.30,229.42 462.19,230.80 462.06,232.18C461.92,233.56 461.78,234.93 461.61,236.31C461.45,237.68 461.27,239.05 461.08,240.41C460.89,241.78 460.68,243.14 460.45,244.50C460.23,245.86 459.99,247.22 459.74,248.57C459.49,249.92 459.22,251.27 458.94,252.62C458.66,253.96 458.36,255.31 458.05,256.65C457.74,257.99 457.41,259.32 457.08,260.65C456.74,261.99 456.39,263.32 456.02,264.64C455.66,265.97 455.28,267.29 454.89,268.61C454.50,269.92 454.10,271.24 453.68,272.55C453.26,273.86 452.83,275.17 452.39,276.47C451.95,277.77 451.50,279.07 451.03,280.37C450.56,281.66 450.09,282.95 449.60,284.24C449.11,285.53 448.60,286.81 448.09,288.09C447.58,289.37 447.05,290.64 446.52,291.91C445.98,293.18 445.44,294.45 444.88,295.71C444.32,296.98 443.75,298.23 443.17,299.49C442.60,300.74 442.01,301.99 441.41,303.24C440.81,304.48 440.20,305.72 439.58,306.96C438.96,308.20 438.33,309.43 437.69,310.65C437.05,311.88 436.41,313.11 435.75,314.32C435.09,315.54 434.42,316.76 433.75,317.96C433.07,319.17 432.39,320.38 431.70,321.58C431.00,322.78 430.30,323.97 429.59,325.16C428.88,326.35 428.17,327.54 427.44,328.72C426.71,329.90 425.98,331.07 425.24,332.24C424.50,333.41 423.75,334.58 422.99,335.74C422.24,336.90 421.47,338.05 420.70,339.20C419.93,340.35 419.15,341.50 418.37,342.64C417.59,343.78 416.80,344.91 416.01,346.05C415.23,347.19 414.43,348.32 413.65,349.45C412.86,350.58 412.07,351.72 411.29,352.85C410.50,353.99 409.72,355.12 408.95,356.26C408.18,357.40 407.41,358.54 406.66,359.69C405.90,360.84 405.16,361.99 404.42,363.15C403.69,364.32 402.97,365.48 402.27,366.66C401.57,367.83 400.88,369.02 400.21,370.21C399.54,371.41 398.89,372.62 398.26,373.83C397.63,375.05 397.02,376.28 396.44,377.53C395.86,378.77 395.30,380.03 394.77,381.31C394.24,382.58 393.73,383.87 393.26,385.18C392.79,386.49 392.32,387.82 391.94,389.16C391.56,390.49 391.20,391.85 390.99,393.20C390.78,394.54 390.64,395.89 390.69,397.22C390.75,398.54 390.93,399.87 391.34,401.15C391.75,402.42 392.37,403.71 393.14,404.88C393.91,406.05 394.90,407.20 395.96,408.19C397.02,409.17 398.91,410.36 399.50,410.80" stroke="#ff0000" stroke-width="2.4"/>
</g>
<circle cx="462.8" cy="219.7" r="4.2" fill="#000"/>
<circle cx="390.8" cy="394.6" r="4.2" fill="#000"/>
<!-- text labels -->
<g>
<text transform="translate(32.25 434.70) scale(0.9400 1.0000)" font-size="26.6">0</text>
<text transform="translate(204.31 434.70) scale(0.9400 1.0000)" font-size="26.6">5</text>
<text transform="translate(370.98 434.70) scale(0.9400 1.0000)" font-size="26.6">10</text>
<text transform="translate(542.59 434.70) scale(0.9400 1.0000)" font-size="26.6">15</text>
<text transform="translate(0.92 330.80) scale(0.9650 1.0000)" font-size="26.6">0.5</text>
<text transform="translate(0.89 245.05) scale(0.9650 1.0000)" font-size="26.6">1.0</text>
<text transform="translate(0.92 159.30) scale(0.9650 1.0000)" font-size="26.6">1.5</text>
<text transform="translate(0.89 73.40) scale(0.9650 1.0000)" font-size="26.6">2.0</text>
<text transform="translate(27.42 16.90) scale(1.0400 1.0000)" font-size="21.2">λ</text>
<text transform="translate(38.29 20.70) scale(1.0000 1.0000)" font-size="17" class="it">h</text>
<text transform="translate(650.78 417.70) scale(1.0500 1.0000)" font-size="21.8" class="it">ñ</text>
<text transform="translate(55.48 84.80) scale(0.9850 1.0000)" font-size="24">λ</text>
<text transform="translate(68.54 92.30) scale(1.0000 1.0000)" font-size="15">*</text>
<text transform="translate(78.99 84.80) scale(1.0000 1.0000)" font-size="24">,</text>
<text transform="translate(89.97 84.80) scale(0.9550 1.0000)" font-size="24.8">T</text>
<text transform="translate(109.58 87.70) scale(1.0658 1.0000)" font-size="24.8" stroke="#000" stroke-width="0.3">=</text>
<text transform="translate(129.96 84.90) scale(0.9550 1.0000)" font-size="25.5">0</text>
<text transform="translate(154.18 120.00) scale(0.9850 1.0000)" font-size="24">λ</text>
<text transform="translate(166.64 123.50) scale(1.0000 1.0000)" font-size="16.8">end</text>
<text transform="translate(192.49 120.00) scale(1.0000 1.0000)" font-size="24">,</text>
<text transform="translate(203.38 120.00) scale(0.9850 1.0000)" font-size="24">λ</text>
<text transform="translate(219.26 123.60) scale(1.0000 1.0000)" font-size="17" class="it">χ</text>
<text transform="translate(228.90 123.40) scale(1.0000 1.0000)" font-size="16.5">b</text>
<text transform="translate(413.76 66.80) scale(0.9150 1.0000)" font-size="23.8" class="it">V</text>
<text transform="translate(426.50 72.00) scale(1.0300 1.0000)" font-size="17.5">eff</text>
<text transform="translate(454.47 69.90) scale(1.0745 1.0000)" font-size="24.8" stroke="#000" stroke-width="0.3">=</text>
<text transform="translate(474.76 67.10) scale(0.9550 1.0000)" font-size="25.5">0</text>
<text transform="translate(507.36 281.50) scale(0.9150 1.0000)" font-size="23.8" class="it">V</text>
<text transform="translate(524.39 284.20) scale(0.8000 1.0000)" font-size="27">'</text>
<text transform="translate(527.40 286.00) scale(1.0300 1.0000)" font-size="17.5">eff</text>
<text transform="translate(555.14 284.60) scale(1.1005 1.0000)" font-size="24.8" stroke="#000" stroke-width="0.3">=</text>
<text transform="translate(575.56 281.70) scale(0.9550 1.0000)" font-size="25.5">0</text>
<text transform="translate(471.27 226.90) scale(0.9589 1.0000)" font-size="24.2">AdS</text>
<text transform="translate(511.56 230.80) scale(1.0000 1.0000)" font-size="16.8">2</text>
<text transform="translate(331.87 389.80) scale(0.9686 1.0000)" font-size="24.2">AdS</text>
<text transform="translate(374.06 393.60) scale(1.0000 1.0000)" font-size="16.8">2</text>
</g>
</svg>
</body>
</html>
